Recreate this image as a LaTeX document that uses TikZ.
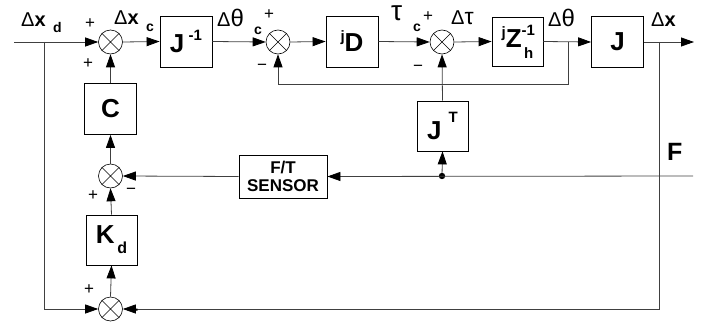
\documentclass[tikz,border=0pt]{standalone}
\usepackage{fontspec}
\setmainfont{Liberation Sans}
\usetikzlibrary{arrows.meta}
\newcommand\gk[1]{{\mdseries #1}}
\newcommand\fsz[1]{\fontsize{#1}{#1}\selectfont}
\begin{document}
\begin{tikzpicture}[x=1pt,y=-1pt,
  blk/.style={draw, line width=0.8pt, minimum width=52pt, minimum height=51pt, inner sep=0pt, font=\bfseries\fsz{26}},
  sumj/.style={draw, circle, minimum size=24pt, inner sep=0pt, line width=0.6pt},
  ln/.style={line width=0.8pt, draw=black!75},
  arr/.style={ln, -{Triangle[length=13pt,width=9pt,color=black]}},
  lbl/.style={font=\bfseries\fsz{20}, inner sep=0pt, anchor=base west},
  sub/.style={font=\bfseries\fsz{14}, inner sep=0pt, anchor=base west},
  sgn/.style={font=\fsz{17}, inner sep=0pt}
]
\useasboundingbox (0,0) rectangle (714,329);
% blocks
\node[blk] (Jinv) at (186,41.5) {J\,\raisebox{12pt}{\fsz{15}-1}};
\node[blk] (jD) at (352,41.5) {\raisebox{10pt}{\fsz{15}j}D};
\node[blk, minimum width=51pt, minimum height=49pt] (Zh) at (517.5,41.5) {\raisebox{10pt}{\fsz{15}j}Z\makebox[0pt][l]{\raisebox{12pt}{\fsz{15}-1}}\raisebox{-11pt}{\fsz{15}\,h}\hspace{4pt}};
\node[blk] (J) at (617.5,42) {J};
\node[blk] (C) at (110.5,109) {C};
\node[blk, minimum width=51pt, minimum height=50pt] (JT) at (442.5,126) {J\hspace{7pt}\raisebox{17pt}{\fsz{15}T}};
\node[blk, minimum width=88pt, minimum height=43pt, font=\bfseries\fontsize{17}{18}\selectfont, align=center] (FT) at (283,176.5) {F/T\\SENSOR};
\node[blk, minimum width=51pt, minimum height=50pt] (Kd) at (111.5,240) {K\raisebox{-10pt}{\fsz{16}\,d}};
% junctions
\foreach \n/\p in {s1/{(110.5,42)}, s2/{(278,42)}, s3/{(442,42)}, s4/{(110.5,176)}, s5/{(110.5,309)}}{
  \node[sumj] (\n) at \p {};
  \draw[line width=0.5pt] (\n.north east) -- (\n.south west) (\n.north west) -- (\n.south east);
}
% coordinates
\coordinate (in) at (14,42);
\coordinate (b1) at (44,42);
\coordinate (b2) at (44,309);
\coordinate (fb) at (568,42);
\coordinate (fbl) at (568,84);
\coordinate (out) at (694,42);
\coordinate (ob) at (659,42);
\coordinate (ob2) at (659,309);
\coordinate (Fin) at (693,176);
\coordinate (dot) at (442,176);
% forward path
\draw[arr] (in) -- (s1.west);
\draw[arr] (s1.east) -- (Jinv.west);
\draw[arr] (Jinv.east) -- (s2.west);
\draw[arr] (s2.east) -- (jD.west);
\draw[arr] (jD.east) -- (s3.west);
\draw[arr] (s3.east) -- (Zh.west);
\draw[arr] (Zh.east) -- (J.west);
\draw[arr] (J.east) -- (out);
% feedback loops
\draw[arr] (fb) -- (fbl) -| (s2.south);
\draw[arr] (JT.north) -- (s3.south);
\draw[arr] (dot) -- (JT.south);
\fill (dot) circle (3.2pt);
\draw[arr] (Fin) -- (FT.east);
\draw[arr] (FT.west) -- (s4.east);
\draw[arr] (s4.north) -- (C.south);
\draw[arr] (C.north) -- (s1.south);
\draw[arr] (Kd.north) -- (s4.south);
\draw[arr] (s5.north) -- (Kd.south);
\draw[arr] (b1) -- (b2) -- (s5.west);
\draw[arr] (ob) -- (ob2) -- (s5.east);
% labels
\node[lbl] (lxd) at (21,27) {\gk{Δ}x};
\node[sub] (lxdd) at (53,33) {d};
\node[lbl] (lxc) at (114,25) {\gk{Δ}x};
\node[sub] (lxcc) at (146,32) {c};
\node[lbl] (lthc) at (217,27) {\gk{Δ{\fsz{24}θ}}};
\node[sub] (lthcc) at (254,35) {c};
\node[lbl] (ltauc) at (391,21) {\gk{\fsz{28}τ}};
\node[sub] (ltaucc) at (413,32) {c};
\node[lbl] (ltau) at (451,25) {\gk{Δ{\fsz{23}τ}}};
\node[lbl] (lth) at (548,27) {\gk{Δ{\fsz{24}θ}}};
\node[lbl] (lx) at (651,27) {\gk{Δ}x};
\node[lbl, font=\bfseries\fsz{25}] (lF) at (667,160) {F};
% signs
\node[sgn] (p1) at (90,24) {+};
\node[sgn] (p2) at (88,64) {+};
\node[sgn] (p3) at (269,15) {+};
\node[sgn] (m2) at (262,67) {−};
\node[sgn] (p4) at (428,17) {+};
\node[sgn] (m3) at (418,68) {−};
\node[sgn] (p5) at (93,196) {+};
\node[sgn] (m4) at (131,191) {−};
\node[sgn] (p6) at (89,290) {+};
\node[sgn, font=\bfseries\fsz{19}] (m5) at (133,313) {−};
\end{tikzpicture}
\end{document}
